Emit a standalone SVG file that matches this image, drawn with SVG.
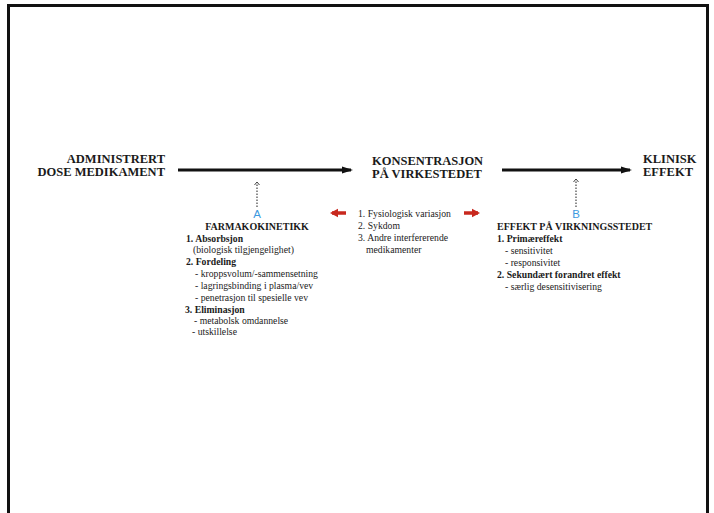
<svg xmlns="http://www.w3.org/2000/svg" width="714" height="513" viewBox="0 0 714 513">
  <style>
    .head { font-family: "Liberation Serif", "DejaVu Serif", "Times New Roman", serif; font-weight: bold; font-size: 12.5px; fill: #1a1a1a; }
    .title { font-family: "Liberation Serif", "DejaVu Serif", "Times New Roman", serif; font-weight: bold; font-size: 10px; fill: #1a1a1a; }
    .item { font-family: "Liberation Serif", "DejaVu Serif", "Times New Roman", serif; font-size: 9.7px; fill: #222; }
    .itemb { font-family: "Liberation Serif", "DejaVu Serif", "Times New Roman", serif; font-weight: bold; font-size: 9.7px; fill: #1a1a1a; }
    .tag { font-family: "Liberation Sans", Arial, sans-serif; font-size: 11.5px; fill: #3d9ae0; }
    .main { stroke: #111; stroke-width: 3; fill: none; }
    .dot { stroke: #444; stroke-width: 1.2; stroke-dasharray: 1.5 1.5; fill: none; }
    .red { stroke: #c8281e; stroke-width: 3.5; fill: none; }
  </style>
  <defs>
    <marker id="blackHead" markerWidth="12" markerHeight="9" refX="9" refY="4.5" orient="auto" markerUnits="userSpaceOnUse">
      <path d="M0,1 L11,4.5 L0,8 Z" fill="#111"/>
    </marker>
    <marker id="redHead" markerWidth="10" markerHeight="10" refX="6" refY="5" orient="auto" markerUnits="userSpaceOnUse">
      <path d="M0,0.8 L8,5 L0,9.2 Z" fill="#c8281e"/>
    </marker>
    <marker id="openHead" markerWidth="8" markerHeight="8" refX="4" refY="4" orient="auto" markerUnits="userSpaceOnUse">
      <path d="M1,1.5 L4,4 L1,6.5" fill="none" stroke="#444" stroke-width="1"/>
    </marker>
  </defs>

  <rect x="0" y="0" width="714" height="513" fill="#fff"/>
  <!-- slide frame, open at the bottom -->
  <path d="M8.5,520 V5.5 H707.5 V520" fill="none" stroke="#111" stroke-width="3"/>

  <g id="connectors">
    <line class="main" x1="178" y1="170" x2="351" y2="170" marker-end="url(#blackHead)"/>
    <line class="main" x1="502" y1="170" x2="630" y2="170" marker-end="url(#blackHead)"/>
    <line class="dot" x1="257" y1="207" x2="257" y2="182" marker-end="url(#openHead)"/>
    <line class="dot" x1="576" y1="207" x2="576" y2="179" marker-end="url(#openHead)"/>
    <line class="red" x1="346" y1="213" x2="332" y2="213" marker-end="url(#redHead)"/>
    <line class="red" x1="464" y1="213" x2="478" y2="213" marker-end="url(#redHead)"/>
  </g>

  <g id="dose">
    <text class="head" x="165" y="163" text-anchor="end">ADMINISTRERT</text>
    <text class="head" x="165" y="176" text-anchor="end">DOSE MEDIKAMENT</text>
  </g>

  <g id="konsentrasjon">
    <text class="head" x="372" y="165">KONSENTRASJON</text>
    <text class="head" x="372" y="178">PÅ VIRKESTEDET</text>
  </g>

  <g id="klinisk">
    <text class="head" x="643" y="163">KLINISK</text>
    <text class="head" x="643" y="176">EFFEKT</text>
  </g>

  <g id="farmakokinetikk">
    <text class="tag" x="257" y="218" text-anchor="middle">A</text>
    <text class="title" x="257" y="230" text-anchor="middle">FARMAKOKINETIKK</text>
    <text class="itemb" x="186" y="242">1. Absorbsjon</text>
    <text class="item" x="193" y="253">(biologisk tilgjengelighet)</text>
    <text class="itemb" x="186" y="265">2. Fordeling</text>
    <text class="item" x="195" y="277">- kroppsvolum/-sammensetning</text>
    <text class="item" x="195" y="289">- lagringsbinding i plasma/vev</text>
    <text class="item" x="195" y="301">- penetrasjon til spesielle vev</text>
    <text class="itemb" x="185" y="313">3. Eliminasjon</text>
    <text class="item" x="194" y="324">- metabolsk omdannelse</text>
    <text class="item" x="192" y="335">- utskillelse</text>
  </g>

  <g id="variasjon">
    <text class="item" x="358" y="217">1. Fysiologisk variasjon</text>
    <text class="item" x="358" y="229">2. Sykdom</text>
    <text class="item" x="358" y="241">3. Andre interfererende</text>
    <text class="item" x="366" y="253">medikamenter</text>
  </g>

  <g id="effekt">
    <text class="tag" x="576" y="218" text-anchor="middle">B</text>
    <text class="title" x="497" y="230">EFFEKT PÅ VIRKNINGSSTEDET</text>
    <text class="itemb" x="497" y="242">1. Primæreffekt</text>
    <text class="item" x="505" y="254">- sensitivitet</text>
    <text class="item" x="505" y="266">- responsivitet</text>
    <text class="itemb" x="497" y="278">2. Sekundært forandret effekt</text>
    <text class="item" x="505" y="290">- særlig desensitivisering</text>
  </g>
</svg>
